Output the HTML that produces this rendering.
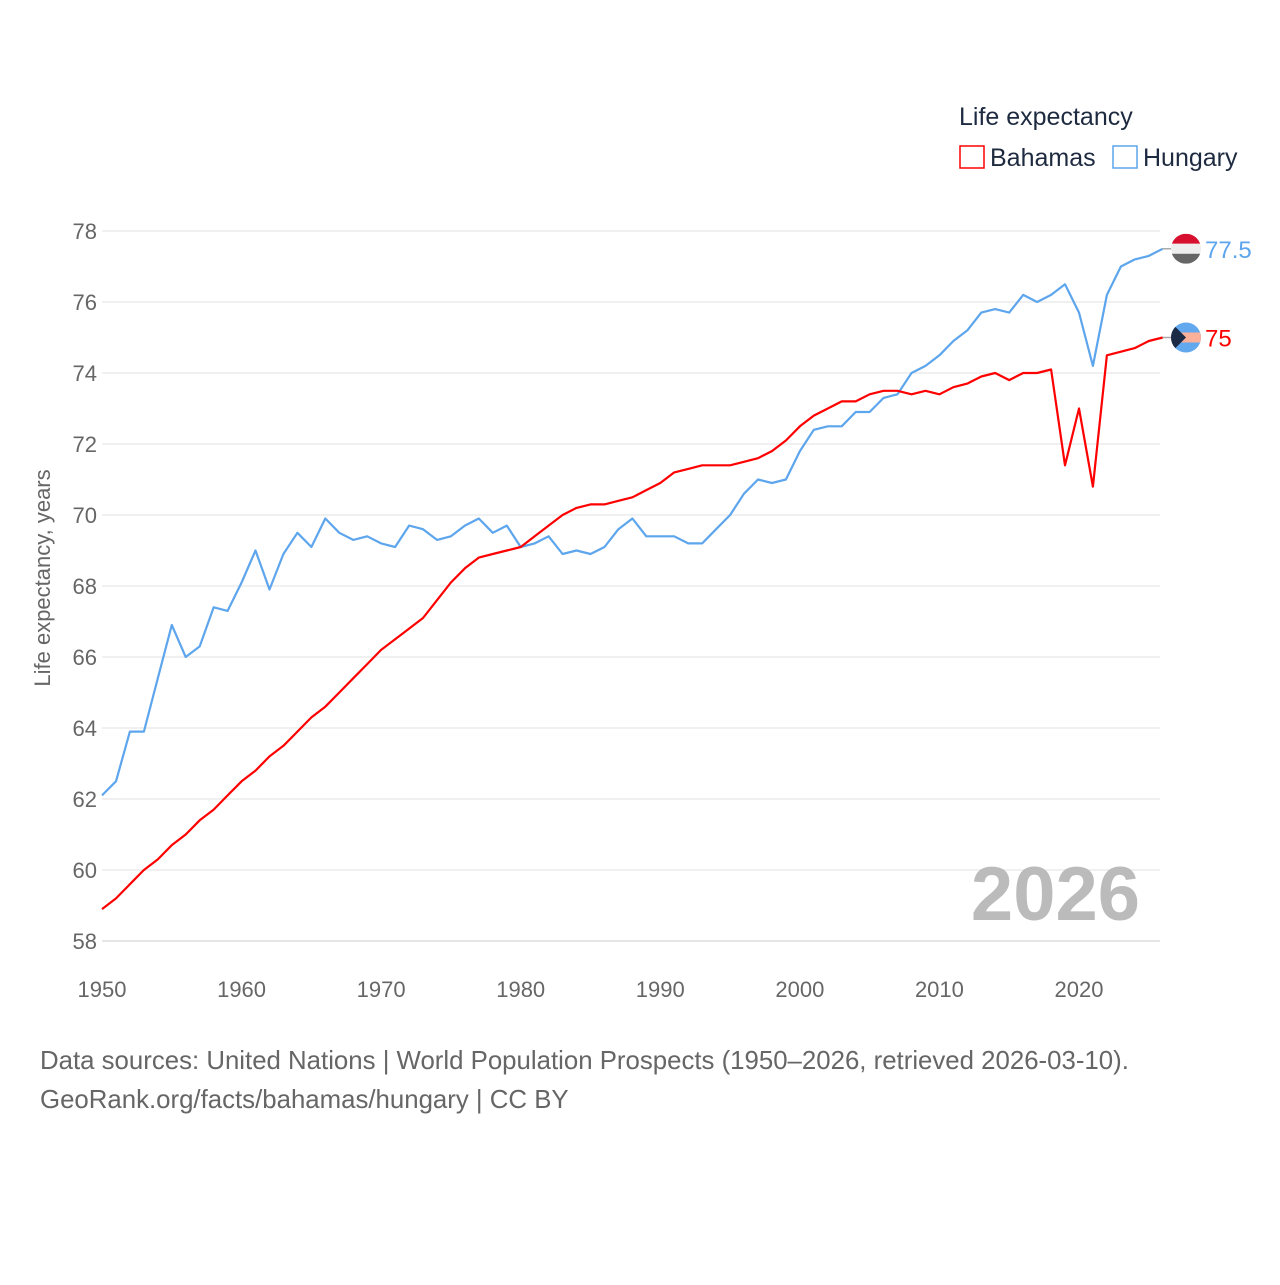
<!DOCTYPE html>
<html><head><meta charset="utf-8"><style>
body{margin:0;background:#fff;font-family:"Liberation Sans",sans-serif}
</style></head><body>
<svg width="1280" height="1280" viewBox="0 0 1280 1280" xmlns="http://www.w3.org/2000/svg" style="font-family:'Liberation Sans',sans-serif">
<rect width="1280" height="1280" fill="#fff"/>
<g id="grid"></g>
<g id="ylabels" font-size="22" fill="#666" text-anchor="end"></g>
<g id="xlabels" font-size="22" fill="#666" text-anchor="middle"></g>
<text transform="translate(50,578) rotate(-90)" text-anchor="middle" font-size="22" fill="#666">Life expectancy, years</text>
<text x="1140" y="920" text-anchor="end" font-size="76" font-weight="bold" fill="#bbb">2026</text>
<g id="series"></g>
<g>
<text x="959" y="125" font-size="25" fill="#1d2a3f">Life expectancy</text>
<rect x="960" y="146" width="24" height="22" fill="none" stroke="#ff0000" stroke-width="1.5"/>
<text x="990" y="166" font-size="25" fill="#1d2a3f">Bahamas</text>
<rect x="1113" y="146" width="24" height="22" fill="none" stroke="#5da5ec" stroke-width="1.5"/>
<text x="1143" y="166" font-size="25" fill="#1d2a3f">Hungary</text>
</g>
<text x="40" y="1069" font-size="25.8" fill="#666">Data sources: United Nations | World Population Prospects (1950–2026, retrieved 2026-03-10).</text>
<text x="40" y="1108" font-size="25.8" fill="#666">GeoRank.org/facts/bahamas/hungary | CC BY</text>
</svg>
<script>
const years=[];for(let y=1950;y<=2026;y++)years.push(y);
const hungary=[62.1,62.5,63.9,63.9,65.4,66.9,66.0,66.3,67.4,67.3,68.1,69.0,67.9,68.9,69.5,69.1,69.9,69.5,69.3,69.4,69.2,69.1,69.7,69.6,69.3,69.4,69.7,69.9,69.5,69.7,69.1,69.2,69.4,68.9,69.0,68.9,69.1,69.6,69.9,69.4,69.4,69.4,69.2,69.2,69.6,70.0,70.6,71.0,70.9,71.0,71.8,72.4,72.5,72.5,72.9,72.9,73.3,73.4,74.0,74.2,74.5,74.9,75.2,75.7,75.8,75.7,76.2,76.0,76.2,76.5,75.7,74.2,76.2,77.0,77.2,77.3,77.5];
const bahamas=[58.9,59.2,59.6,60.0,60.3,60.7,61.0,61.4,61.7,62.1,62.5,62.8,63.2,63.5,63.9,64.3,64.6,65.0,65.4,65.8,66.2,66.5,66.8,67.1,67.6,68.1,68.5,68.8,68.9,69.0,69.1,69.4,69.7,70.0,70.2,70.3,70.3,70.4,70.5,70.7,70.9,71.2,71.3,71.4,71.4,71.4,71.5,71.6,71.8,72.1,72.5,72.8,73.0,73.2,73.2,73.4,73.5,73.5,73.4,73.5,73.4,73.6,73.7,73.9,74.0,73.8,74.0,74.0,74.1,71.4,73.0,70.8,74.5,74.6,74.7,74.9,75.0];
const yTicks=[58,60,62,64,66,68,70,72,74,76,78];
const xTicks=[1950,1960,1970,1980,1990,2000,2010,2020];
const NS='http://www.w3.org/2000/svg';
const X=y=>102+(y-1950)*13.957;
const Y=v=>941-(v-58)*35.5;
function mk(tag,attrs,parent){const e=document.createElementNS(NS,tag);for(const k in attrs)e.setAttribute(k,attrs[k]);parent.appendChild(e);return e;}
const grid=document.getElementById('grid'),yl=document.getElementById('ylabels'),xl=document.getElementById('xlabels'),ser=document.getElementById('series');
yTicks.forEach(t=>{
 const l=mk('line',{x1:102,x2:1160,y1:Y(t),y2:Y(t),stroke:t===58?'#ddd':'#ebebeb','stroke-width':1.5},grid);
 
 
 const tx=mk('text',{x:97,y:Y(t)+8},yl);tx.textContent=t;
 
 
});
xTicks.forEach(t=>{
 const tx=mk('text',{x:X(t),y:997},xl);tx.textContent=t;
 
 
});
function line(vals,color,name){
 const d=vals.map((v,i)=>(i?'L':'M')+X(years[i]).toFixed(1)+' '+Y(v).toFixed(1)).join(' ');
 const p=mk('path',{d:d,fill:'none',stroke:color,'stroke-width':2.2,'stroke-linejoin':'round'},ser);
 
 
 const last=vals[vals.length-1],ly=Y(last);
 mk('line',{x1:X(years[years.length-1]),x2:1175,y1:ly,y2:ly,stroke:'#aaa','stroke-width':1.5},ser);
 return ly;
}
const hy=line(hungary,'#5da5ec','hungary');
const by=line(bahamas,'#ff0000','bahamas');
const hf=mk('g',{},ser);


const cp1=mk('clipPath',{id:'c1'},hf);mk('circle',{cx:1186,cy:hy,r:15},cp1);
const g1=mk('g',{'clip-path':'url(#c1)'},hf);
mk('rect',{x:1171,y:hy-15,width:30,height:10,fill:'#d8102f'},g1);
mk('rect',{x:1171,y:hy-5,width:30,height:10,fill:'#eee'},g1);
mk('rect',{x:1171,y:hy+5,width:30,height:10,fill:'#666'},g1);
const ht=mk('text',{x:1205,y:hy+9,'font-size':24,fill:'#5da5ec'},ser);ht.textContent=hungary[hungary.length-1];


const bf=mk('g',{},ser);


const cp=mk('clipPath',{id:'c2'},bf);mk('circle',{cx:1186,cy:by,r:15},cp);
const g2=mk('g',{'clip-path':'url(#c2)'},bf);
mk('rect',{x:1171,y:by-15,width:30,height:30,fill:'#62a8ee'},g2);
mk('rect',{x:1171,y:by-5,width:30,height:10,fill:'#fbb09a'},g2);
mk('path',{d:`M1171 ${by-15} L1186 ${by} L1171 ${by+15} Z`,fill:'#1b2b45'},g2);
const bt=mk('text',{x:1205,y:by+9,'font-size':24,fill:'#ff0000'},ser);bt.textContent=bahamas[bahamas.length-1];


</script>
</body></html>
